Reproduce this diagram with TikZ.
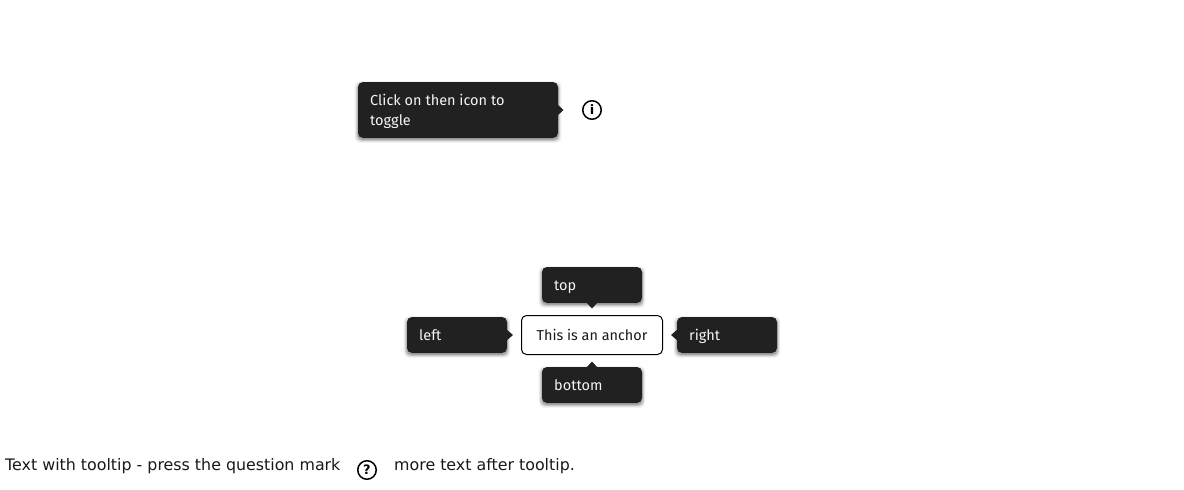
\documentclass[tikz,border=0pt]{standalone}
\usepackage{fontspec}
\setmainfont{Fira Sans}
\newfontfamily\dejavu{DejaVu Sans}
\newfontfamily\dejavub{DejaVu Sans Bold}
\definecolor{tipbg}{HTML}{212121}
\newcommand{\tipshadow}[4]{%
  \foreach \g/\op in {3.4/0.04,2.6/0.06,1.9/0.08,1.2/0.10,0.5/0.13}{%
    \fill[black,opacity=\op,rounded corners=5] ({#1-\g},{#2-\g+2.5}) rectangle ({#3+\g},{#4+\g+1.5});
  }%
}
\tikzset{
  x=1pt,y=-1pt,
  tipbody/.style={fill=tipbg,draw=none,rounded corners=5},
  tiptail/.style={fill=tipbg,draw=none},
  tiptext/.style={anchor=base west,inner sep=0pt,text=white!96!black,font=\fontsize{14.5}{20}\selectfont,align=left},
  plain/.style={anchor=base west,inner sep=0pt,text=black!90,font=\dejavu\fontsize{15.85}{18}\selectfont},
  iconring/.style={circle,draw=black,line width=1.5pt,minimum size=18.5pt,inner sep=0pt,font=\dejavub\fontsize{13}{13}\selectfont},
}
\begin{document}
\begin{tikzpicture}
\useasboundingbox (0,0) rectangle (1184,490);
% upper tooltip
\tipshadow{358}{82}{558}{138}
\fill[tipbody] (358,82) rectangle (558,138);
\fill[tiptail] (557,104) -- (563.5,110) -- (557,116) -- cycle;
\node[tiptext] (toggle) at (370,105) {Click on then icon to};
\node[tiptext] (toggleb) at (370,125) {toggle};
\node[iconring] (infoicon) at (592,110) {i};
% anchor
\node[draw=black,line width=1pt,rounded corners=5,minimum width=141pt,minimum height=39pt,inner sep=0pt] (anchorbox) at (592,335) {};
\node[anchor=base,inner sep=0pt,font=\fontsize{14.4}{18}\selectfont,text=black!90] (anchortext) at (592,340) {This is an anchor};
% top
\tipshadow{542}{267}{642}{303}
\fill[tipbody] (542,267) rectangle (642,303);
\fill[tiptail] (586,302) -- (592,308.5) -- (598,302) -- cycle;
\node[tiptext] (toptip) at (554,290) {top};
% left
\tipshadow{407}{317}{507}{353}
\fill[tipbody] (407,317) rectangle (507,353);
\fill[tiptail] (506,329) -- (513,335) -- (506,341) -- cycle;
\node[tiptext] (lefttip) at (419,340) {left};
% right
\tipshadow{677}{317}{777}{353}
\fill[tipbody] (677,317) rectangle (777,353);
\fill[tiptail] (678,329) -- (671,335) -- (678,341) -- cycle;
\node[tiptext] (righttip) at (689,340) {right};
% bottom
\tipshadow{542}{367}{642}{403}
\fill[tipbody] (542,367) rectangle (642,403);
\fill[tiptail] (586,368) -- (592,361.5) -- (598,368) -- cycle;
\node[tiptext] (bottomtip) at (554,390) {bottom};
% text line
\node[plain] (before) at (5,470) {Text with tooltip - press the question mark};
\node[iconring] (helpicon) at (367,470) {?};
\node[plain] (after) at (394,470) {more text after tooltip.};
\end{tikzpicture}
\end{document}
